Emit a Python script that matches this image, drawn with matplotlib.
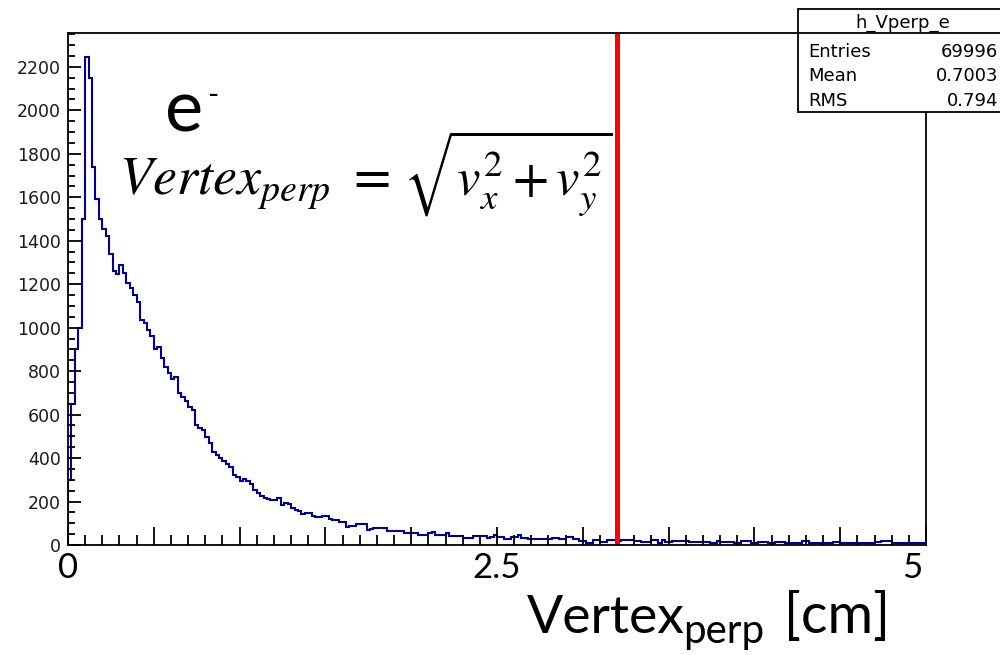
import numpy as np
import matplotlib
matplotlib.use("Agg")
import matplotlib.pyplot as plt
from matplotlib.ticker import MultipleLocator, NullFormatter
from matplotlib.patches import Rectangle
from matplotlib.lines import Line2D

plt.rcParams['font.family'] = ['DejaVu Sans']

# ---- data ----
x_min, x_max = 0.0, 5.0
bin_width = 0.02
counts = [
    300, 650, 900, 1000, 1500, 2244, 2150, 1740, 1590, 1500,
    1455, 1420, 1340, 1260, 1245, 1290, 1252, 1206, 1183, 1150,
    1120, 1035, 1020, 990, 962, 900, 913, 860, 821, 790,
    765, 775, 700, 680, 662, 636, 621, 550, 540, 530,
    498, 469, 430, 414, 400, 385, 372, 360, 320, 312,
    295, 303, 296, 280, 254, 240, 226, 216, 210, 207,
    207, 218, 185, 195, 190, 172, 160, 155, 142, 148,
    145, 133, 128, 130, 133, 133, 119, 117, 115, 107,
    107, 82, 87, 87, 95, 98, 98, 69, 73, 78,
    78, 78, 78, 64, 64, 64, 64, 63, 56, 56,
    56, 53, 46, 46, 46, 54, 61, 46, 46, 46,
    54, 41, 41, 41, 41, 34, 34, 34, 41, 41,
    41, 41, 31, 38, 46, 38, 38, 28, 28, 38,
    38, 46, 31, 31, 26, 26, 26, 26, 26, 26,
    26, 34, 34, 26, 26, 38, 38, 28, 28, 20,
    20, 10, 10, 23, 23, 15, 15, 23, 23, 23,
    20, 25, 25, 25, 25, 20, 20, 16, 16, 16,
    25, 25, 9, 25, 14, 14, 20, 20, 20, 20,
    20, 14, 14, 14, 14, 14, 14, 9, 9, 20,
    14, 14, 14, 14, 9, 9, 17, 17, 17, 9,
    9, 14, 14, 14, 9, 9, 14, 14, 14, 9,
    9, 9, 9, 9, 17, 17, 9, 9, 9, 9,
    9, 9, 9, 14, 14, 9, 9, 9, 9, 9,
    9, 9, 9, 9, 9, 14, 14, 17, 17, 17,
    9, 9, 9, 9, 9, 9, 9, 9, 9, 9,
]
cut_value = 3.2
y_max = 2356
x_tick_labels = ["0", "2.5", "5"]
x_tick_label_pos = [0.0, 2.5, 4.92]
stats_title = "h_Vperp_e"
stats_names = ["Entries", "Mean", "RMS"]
stats_values = ["69996", "0.7003", "0.794"]

# ---- figure ----
W, H = 1000, 655
fig = plt.figure(figsize=(W / 100, H / 100), dpi=100)
ax = fig.add_axes([68 / W, 1 - 545 / H, 858 / W, 512 / H])

edges = x_min + bin_width * np.arange(len(counts) + 1)
ax.stairs(counts, edges, color='#000099', lw=1.5, baseline=0)
ax.axvline(cut_value, color='#ff0000', lw=3.6)

ax.set_xlim(x_min, x_max)
ax.set_ylim(0, y_max)

for sp in ax.spines.values():
    sp.set_linewidth(1.3)
    sp.set_color('black')

ax.yaxis.set_major_locator(MultipleLocator(200))
ax.yaxis.set_minor_locator(MultipleLocator(50))
ax.xaxis.set_major_locator(MultipleLocator(0.5))
ax.xaxis.set_minor_locator(MultipleLocator(0.1))
ax.xaxis.set_major_formatter(NullFormatter())
ax.tick_params(axis='y', which='major', direction='in', length=9, width=1.3,
               labelsize=12.5, pad=5, left=True, right=False, labelcolor='#1a1a1a')
ax.tick_params(axis='y', which='minor', direction='in', length=5, width=1.3,
               left=True, right=False)
ax.tick_params(axis='x', which='major', direction='in', length=13, width=1.3,
               bottom=True, top=False)
ax.tick_params(axis='x', which='minor', direction='in', length=7, width=1.3,
               bottom=True, top=False)

def fx(px):
    return px / W

def fy(py):
    return 1 - py / H

# x tick labels (large)
for lab, xv in zip(x_tick_labels, x_tick_label_pos):
    px = 68 + xv * 858 / 5
    fig.text(fx(px), fy(578), lab, ha='center', va='baseline',
             fontsize=25, family='Lato')

# x axis title
fig.text(fx(527), fy(633), "Vertex", ha='left', va='baseline', fontsize=38.5, family='Lato')
fig.text(fx(683), fy(643), "perp", ha='left', va='baseline', fontsize=29, family='Lato')
fig.text(fx(784), fy(633), "[cm]", ha='left', va='baseline', fontsize=40, family='Lato')

# e- label
fig.text(fx(165), fy(132), "e", ha='left', va='baseline', fontsize=52, family='Lato')
fig.text(fx(207), fy(104), "-", ha='left', va='baseline', fontsize=22, family='Lato')

# formula (two pieces)
fig.text(fx(119), fy(195), r'$Vertex_{perp}\ =$',
         ha='left', va='baseline', fontsize=39, math_fontfamily='stix')
fig.text(fx(403), fy(195), r'$\sqrt{v_x^2 + v_y^2}$',
         ha='left', va='baseline', fontsize=38, math_fontfamily='stix')

# stats box
box = Rectangle((fx(798), fy(112)), 0.3, (112 - 9) / H, transform=fig.transFigure,
                facecolor='white', edgecolor='black', lw=1.3, zorder=5)
fig.patches.append(box)
fig.lines.append(Line2D([fx(798), 1.0], [fy(33), fy(33)], transform=fig.transFigure,
                        color='black', lw=1.3, zorder=6))
fig.text(fx(903), fy(28), stats_title, ha='center', va='baseline', fontsize=13, zorder=7)
for i, (n, v) in enumerate(zip(stats_names, stats_values)):
    yb = 57 + i * 24.4
    fig.text(fx(808), fy(yb), n, ha='left', va='baseline', fontsize=13, zorder=7)
    fig.text(fx(998), fy(yb), v, ha='right', va='baseline', fontsize=13, zorder=7)

fig.savefig("out.png", dpi=100)
